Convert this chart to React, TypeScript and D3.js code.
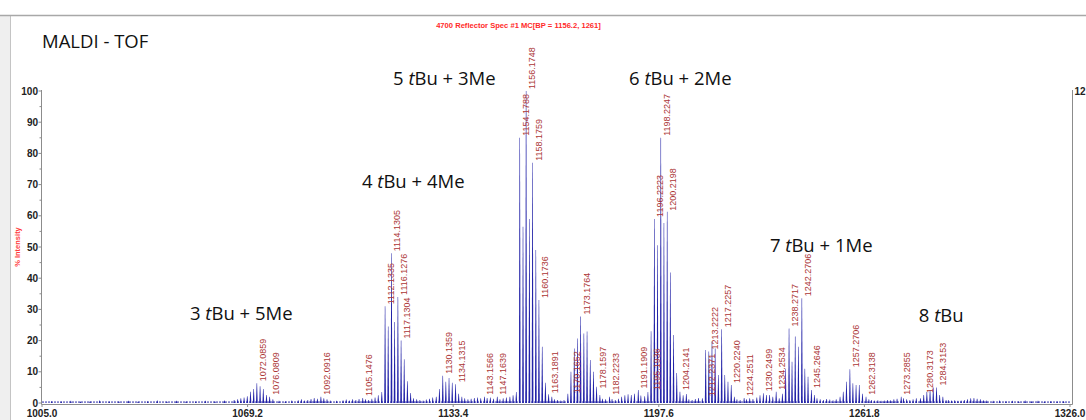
import React from 'react'
import * as d3 from 'd3'

// MALDI-TOF reflector spectrum, m/z vs % intensity
const W = 1086
const H = 420

const xTicks = [1005.0, 1069.2, 1133.4, 1197.6, 1261.8, 1326.0]
const yTicks = [0, 10, 20, 30, 40, 50, 60, 70, 80, 90, 100]
const yMinorTicks = [5, 15, 25, 35, 45, 55, 65, 75, 85, 95]

// main isotope clusters [m/z, % intensity]
const clusterA = [[1069.1, 2.2], [1070.1, 3.6], [1071.1, 4.5], [1072.09, 6.3], [1073.1, 5.4], [1074.1, 4.5], [1075.1, 2.6], [1076.08, 2.0], [1077.1, 1.2]]
const clusterB = [[1111.1, 3.5], [1112.13, 31], [1113.1, 24.5], [1114.13, 48], [1115.1, 26], [1116.13, 34], [1117.13, 20], [1118.1, 14], [1119.1, 7], [1120.1, 3.2]]
const clusterB2 = [[1128.1, 2], [1129.1, 4.5], [1130.14, 8.7], [1131.1, 6.8], [1132.1, 8], [1133.1, 6.5], [1134.13, 6], [1135.1, 3], [1136.1, 2]]
const clusterC = [[1151.1, 2], [1152.1, 2.5], [1153.1, 3.5], [1154.18, 85], [1155.2, 56.5], [1156.17, 100], [1157.2, 59], [1158.18, 77], [1159.2, 49], [1160.17, 33], [1161.2, 18], [1162.2, 6.5], [1163.19, 2.8], [1164.2, 2]]
const clusterC2 = [[1169.2, 3], [1170.17, 10], [1171.2, 17.5], [1172.2, 20.7], [1173.18, 27.7], [1174.2, 22.3], [1175.2, 22.9], [1176.2, 13.8], [1177.2, 10], [1178.16, 5.2], [1179.2, 2.6]]
const clusterD = [[1193.2, 2.2], [1194.2, 3.5], [1195.19, 23], [1196.22, 59], [1197.2, 50.6], [1198.22, 85], [1199.2, 57.7], [1200.22, 61.3], [1201.2, 41.8], [1202.2, 21.8], [1203.2, 9.6], [1204.21, 3.6], [1205.2, 2.5], [1206.2, 2.9]]
const clusterD2 = [[1211.2, 1.5], [1212.24, 17], [1213.22, 16.5], [1214.2, 19.7], [1215.2, 17.5], [1216.2, 9], [1217.23, 23.6], [1218.2, 9], [1219.2, 6.8], [1220.22, 5.8], [1221.2, 2]]
const clusterE = [[1228.2, 1.8], [1229.2, 2.5], [1230.25, 3.1], [1231.2, 2.6], [1232.2, 2.6], [1233.2, 2.0], [1234.25, 3.6], [1235.2, 1.5], [1236.2, 3], [1237.2, 11], [1238.27, 23.9], [1239.2, 13.2], [1240.2, 21.3], [1241.2, 18], [1242.27, 33.6], [1243.2, 11], [1244.2, 8.4], [1245.26, 4.2], [1246.2, 2.6]]
const clusterE2 = [[1254.2, 2], [1255.2, 3.6], [1256.2, 6.8], [1257.27, 10.8], [1258.2, 6.3], [1259.2, 5.8], [1260.2, 5.8], [1261.2, 3], [1262.31, 2], [1263.2, 1.2]]
const clusterF = [[1279.3, 1.5], [1280.32, 2.6], [1281.3, 3.6], [1282.3, 4.2], [1283.3, 5], [1284.32, 5], [1285.3, 2.6], [1286.3, 2], [1287.3, 1]]

// small peaks / baseline noise
const minorPeaks = [
  [1008, 0.6], [1011, 0.5], [1014, 0.7], [1017, 0.5], [1020, 0.6], [1023, 0.8], [1026, 0.5], [1029, 0.6], [1032, 0.7], [1035, 0.5],
  [1038, 0.6], [1041, 0.8], [1044, 0.5], [1047, 0.7], [1050, 0.6], [1053, 0.5], [1056, 0.7], [1059, 0.6], [1062, 0.8], [1065, 1.0],
  [1066.1, 1.2], [1067.1, 1.5], [1068.1, 1.8],
  [1079, 0.7], [1081, 0.6], [1083, 0.8], [1085, 0.9], [1086, 1.2], [1087, 0.8], [1088, 1.0], [1089, 1.3], [1090, 1.6], [1091, 1.4],
  [1092.09, 2.0], [1093, 1.5], [1094, 1.2], [1095, 0.8], [1097, 0.7], [1099, 0.9], [1100, 1.1], [1101, 0.8], [1102, 1.2], [1103, 1.0],
  [1104, 1.3], [1105.15, 1.6], [1106, 1.2], [1107, 1.0], [1108, 1.4], [1109, 1.8], [1110, 2.5],
  [1121, 1.5], [1122, 1.2], [1123, 1.0], [1124, 0.8], [1125, 1.1], [1126, 1.4], [1127, 1.8],
  [1137, 1.5], [1138, 1.2], [1139, 1.4], [1140, 1.6], [1141, 1.8], [1142, 1.5], [1143.16, 2.0], [1144, 1.6], [1145, 1.8], [1146, 1.4],
  [1147.16, 2.0], [1148, 1.2], [1149, 1.5], [1150, 1.8],
  [1165, 1.2], [1166, 1.0], [1167, 0.8], [1168, 1.0],
  [1180, 1.4], [1181, 1.2], [1182.22, 2.0], [1183, 1.3], [1184, 1.0], [1185, 1.4], [1186, 2.0], [1187, 2.5], [1188, 2.8], [1189, 2.6],
  [1190, 3.0], [1191.19, 4.2], [1192, 2.4],
  [1207, 1.2], [1208, 1.0], [1209, 1.3], [1210, 1.6],
  [1222, 1.2], [1223, 1.0], [1224.25, 1.6], [1225, 1.2], [1226, 1.5], [1227, 1.3],
  [1247, 1.5], [1248, 1.2], [1249, 1.0], [1250, 1.3], [1251, 1.1], [1252, 0.9], [1253, 1.2],
  [1264, 1.0], [1265, 0.8], [1266, 0.9], [1267, 0.7], [1268, 0.8], [1269, 1.0], [1270, 0.9], [1271, 1.2], [1272, 1.4], [1273.29, 2.0],
  [1274, 1.5], [1275, 1.2], [1276, 1.0], [1277, 1.2], [1278, 1.5],
  [1288, 1.0], [1289, 0.8], [1290, 0.9], [1291, 0.7], [1292, 0.8], [1293, 1.0], [1294, 1.2], [1295, 1.5], [1296, 1.6], [1297, 1.4],
  [1298, 1.2], [1299, 0.9], [1300, 0.8], [1302, 0.7], [1304, 0.8], [1306, 0.6], [1308, 0.7], [1310, 0.6], [1312, 0.8], [1314, 0.6],
  [1316, 0.7], [1318, 0.5], [1320, 0.6], [1322, 0.5], [1324, 0.6],
]

// peak labels [text, % height of label foot]
const peakLabels = [
  ['1072.0859', 6.3], ['1076.0809', 2], ['1092.0916', 2], ['1105.1476', 1.6],
  ['1112.1335', 31], ['1114.1305', 48], ['1116.1276', 34], ['1117.1304', 20],
  ['1130.1359', 8.7], ['1134.1315', 6], ['1143.1566', 2], ['1147.1639', 2],
  ['1154.1788', 85], ['1156.1748', 100], ['1158.1759', 77], ['1160.1736', 33], ['1163.1891', 2.5],
  ['1170.1652', 2.5], ['1173.1764', 27.7], ['1178.1597', 4], ['1182.2233', 2], ['1191.1909', 4],
  ['1195.1936', 3.5], ['1196.2223', 59], ['1198.2247', 85], ['1200.2198', 61], ['1204.2141', 3.5],
  ['1212.2371', 1.5], ['1213.2222', 16.5], ['1217.2257', 23.6], ['1220.2240', 5.8], ['1224.2511', 1.6],
  ['1230.2499', 3.1], ['1234.2534', 3.6], ['1238.2717', 23.9], ['1242.2706', 33.6], ['1245.2646', 4.2],
  ['1257.2706', 10.8], ['1262.3138', 2], ['1273.2855', 2], ['1280.3173', 2.6], ['1284.3153', 5],
]

// species annotations: count, rest, left m/z, baseline %
const annotations = [
  ['5', ' + 3Me', 1114.6, 101.9],
  ['6', ' + 2Me', 1188.3, 101.9],
  ['4', ' + 4Me', 1104.9, 68.9],
  ['7', ' + 1Me', 1232.3, 48.4],
  ['3', ' + 5Me', 1051.2, 26.6],
  ['8', '', 1278.8, 26.1],
]

// right axis top label, cut by the window edge in the original
const rightAxisLabel = '12'

const allPeaks = [
  ...minorPeaks, ...clusterA, ...clusterB, ...clusterB2, ...clusterC, ...clusterC2,
  ...clusterD, ...clusterD2, ...clusterE, ...clusterE2, ...clusterF,
]

export default function App() {
  const x = d3.scaleLinear().domain([1005, 1326]).range([42, 1070])
  const y = d3.scaleLinear().domain([0, 100]).range([403, 91])
  const base = y(0)

  // narrow profile shape per peak: wide/dark at foot, thin/light at top
  const peakPath = (mz: number, pct: number) => {
    const px = x(mz)
    const top = y(pct)
    return `M${px - 0.85},${base} L${px - 0.25},${top} L${px + 0.25},${top} L${px + 0.85},${base} Z`
  }

  const tickFont = { fontFamily: 'Liberation Sans, Arial, sans-serif', fontSize: 10, fontWeight: 'bold' as const }

  return (
    <svg width={W} height={H} style={{ position: 'absolute', left: 0, top: 0, background: '#fff' }}>
      {/* window chrome */}
      <rect x={0} y={15} width={10} height={H - 15} fill="#efefef" />
      <line x1={10.5} x2={10.5} y1={15} y2={H} stroke="#c4c4c4" />
      <line x1={0} x2={W} y1={15.5} y2={15.5} stroke="#a8a8a8" strokeWidth={1.5} />

      <text x={42} y={48} fontFamily="Open Sans, sans-serif" fontSize={18.5} fill="#111">MALDI - TOF</text>

      <text x={518.5} y={27.5} textAnchor="middle" fill="#ff2a2a"
        fontFamily="Liberation Sans, Arial, sans-serif" fontSize={7.6} fontWeight="bold">
        4700 Reflector Spec #1 MC[BP = 1156.2, 1261]
      </text>

      {/* axes frame */}
      <line x1={41.5} x2={41.5} y1={y(100) - 1} y2={base + 1.5} stroke="#8c8c8c" />
      <line x1={1072.5} x2={1072.5} y1={y(100) - 1} y2={base + 1.5} stroke="#8c8c8c" />
      <line x1={41.5} x2={1072.5} y1={base + 1.5} y2={base + 1.5} stroke="#8c8c8c" />

      {yTicks.map(t => (
        <g key={t}>
          <line x1={38.5} x2={41.5} y1={y(t)} y2={y(t)} stroke="#8c8c8c" />
          <text x={38} y={y(t) + 3.5} textAnchor="end" fill="#222" {...tickFont}>{t}</text>
        </g>
      ))}
      {yMinorTicks.map(t => (
        <line key={t} x1={39.5} x2={41.5} y1={y(t)} y2={y(t)} stroke="#8c8c8c" />
      ))}
      <text transform={`translate(20,${y(50)}) rotate(-90)`} textAnchor="middle" fill="#ff3b3b"
        fontFamily="Liberation Sans, Arial, sans-serif" fontSize={7.5} fontWeight="bold">% Intensity</text>

      {xTicks.map(t => (
        <g key={t}>
          <line x1={x(t)} x2={x(t)} y1={base + 1.5} y2={base + 4} stroke="#8c8c8c" />
          <text x={x(t)} y={416.5} textAnchor="middle" fill="#222" {...tickFont}>{t.toFixed(1)}</text>
        </g>
      ))}
      <text x={1074.5} y={y(100) + 3.5} fill="#222" {...tickFont}>{rightAxisLabel}</text>

      {/* baseline */}
      <line x1={x(1005)} x2={x(1326)} y1={y(0.3)} y2={y(0.3)} stroke="#2a2aa8" strokeWidth={1} strokeDasharray="2 1" />

      {/* spectrum */}
      <g fill="#2323a8">
        {allPeaks.map(([mz, pct], i) => (
          <path key={i} d={peakPath(mz, pct)} />
        ))}
      </g>

      {/* peak labels */}
      <g fill="#ab3535" fontFamily="Liberation Sans, Arial, sans-serif" fontSize={9}>
        {peakLabels.map(([label, pct]) => (
          <text key={label as string}
            transform={`translate(${x(parseFloat(label as string)) + 9},${y(pct as number) - 2}) rotate(-90)`}>
            {label}
          </text>
        ))}
      </g>

      {/* species annotations */}
      <g fontFamily="Open Sans, sans-serif" fontSize={18.5} fill="#111">
        {annotations.map(([n, rest, mz, pct]) => (
          <text key={n as string} x={x(mz as number)} y={y(pct as number)}>
            {n} <tspan fontStyle="italic">t</tspan>Bu{rest}
          </text>
        ))}
      </g>
    </svg>
  )
}
